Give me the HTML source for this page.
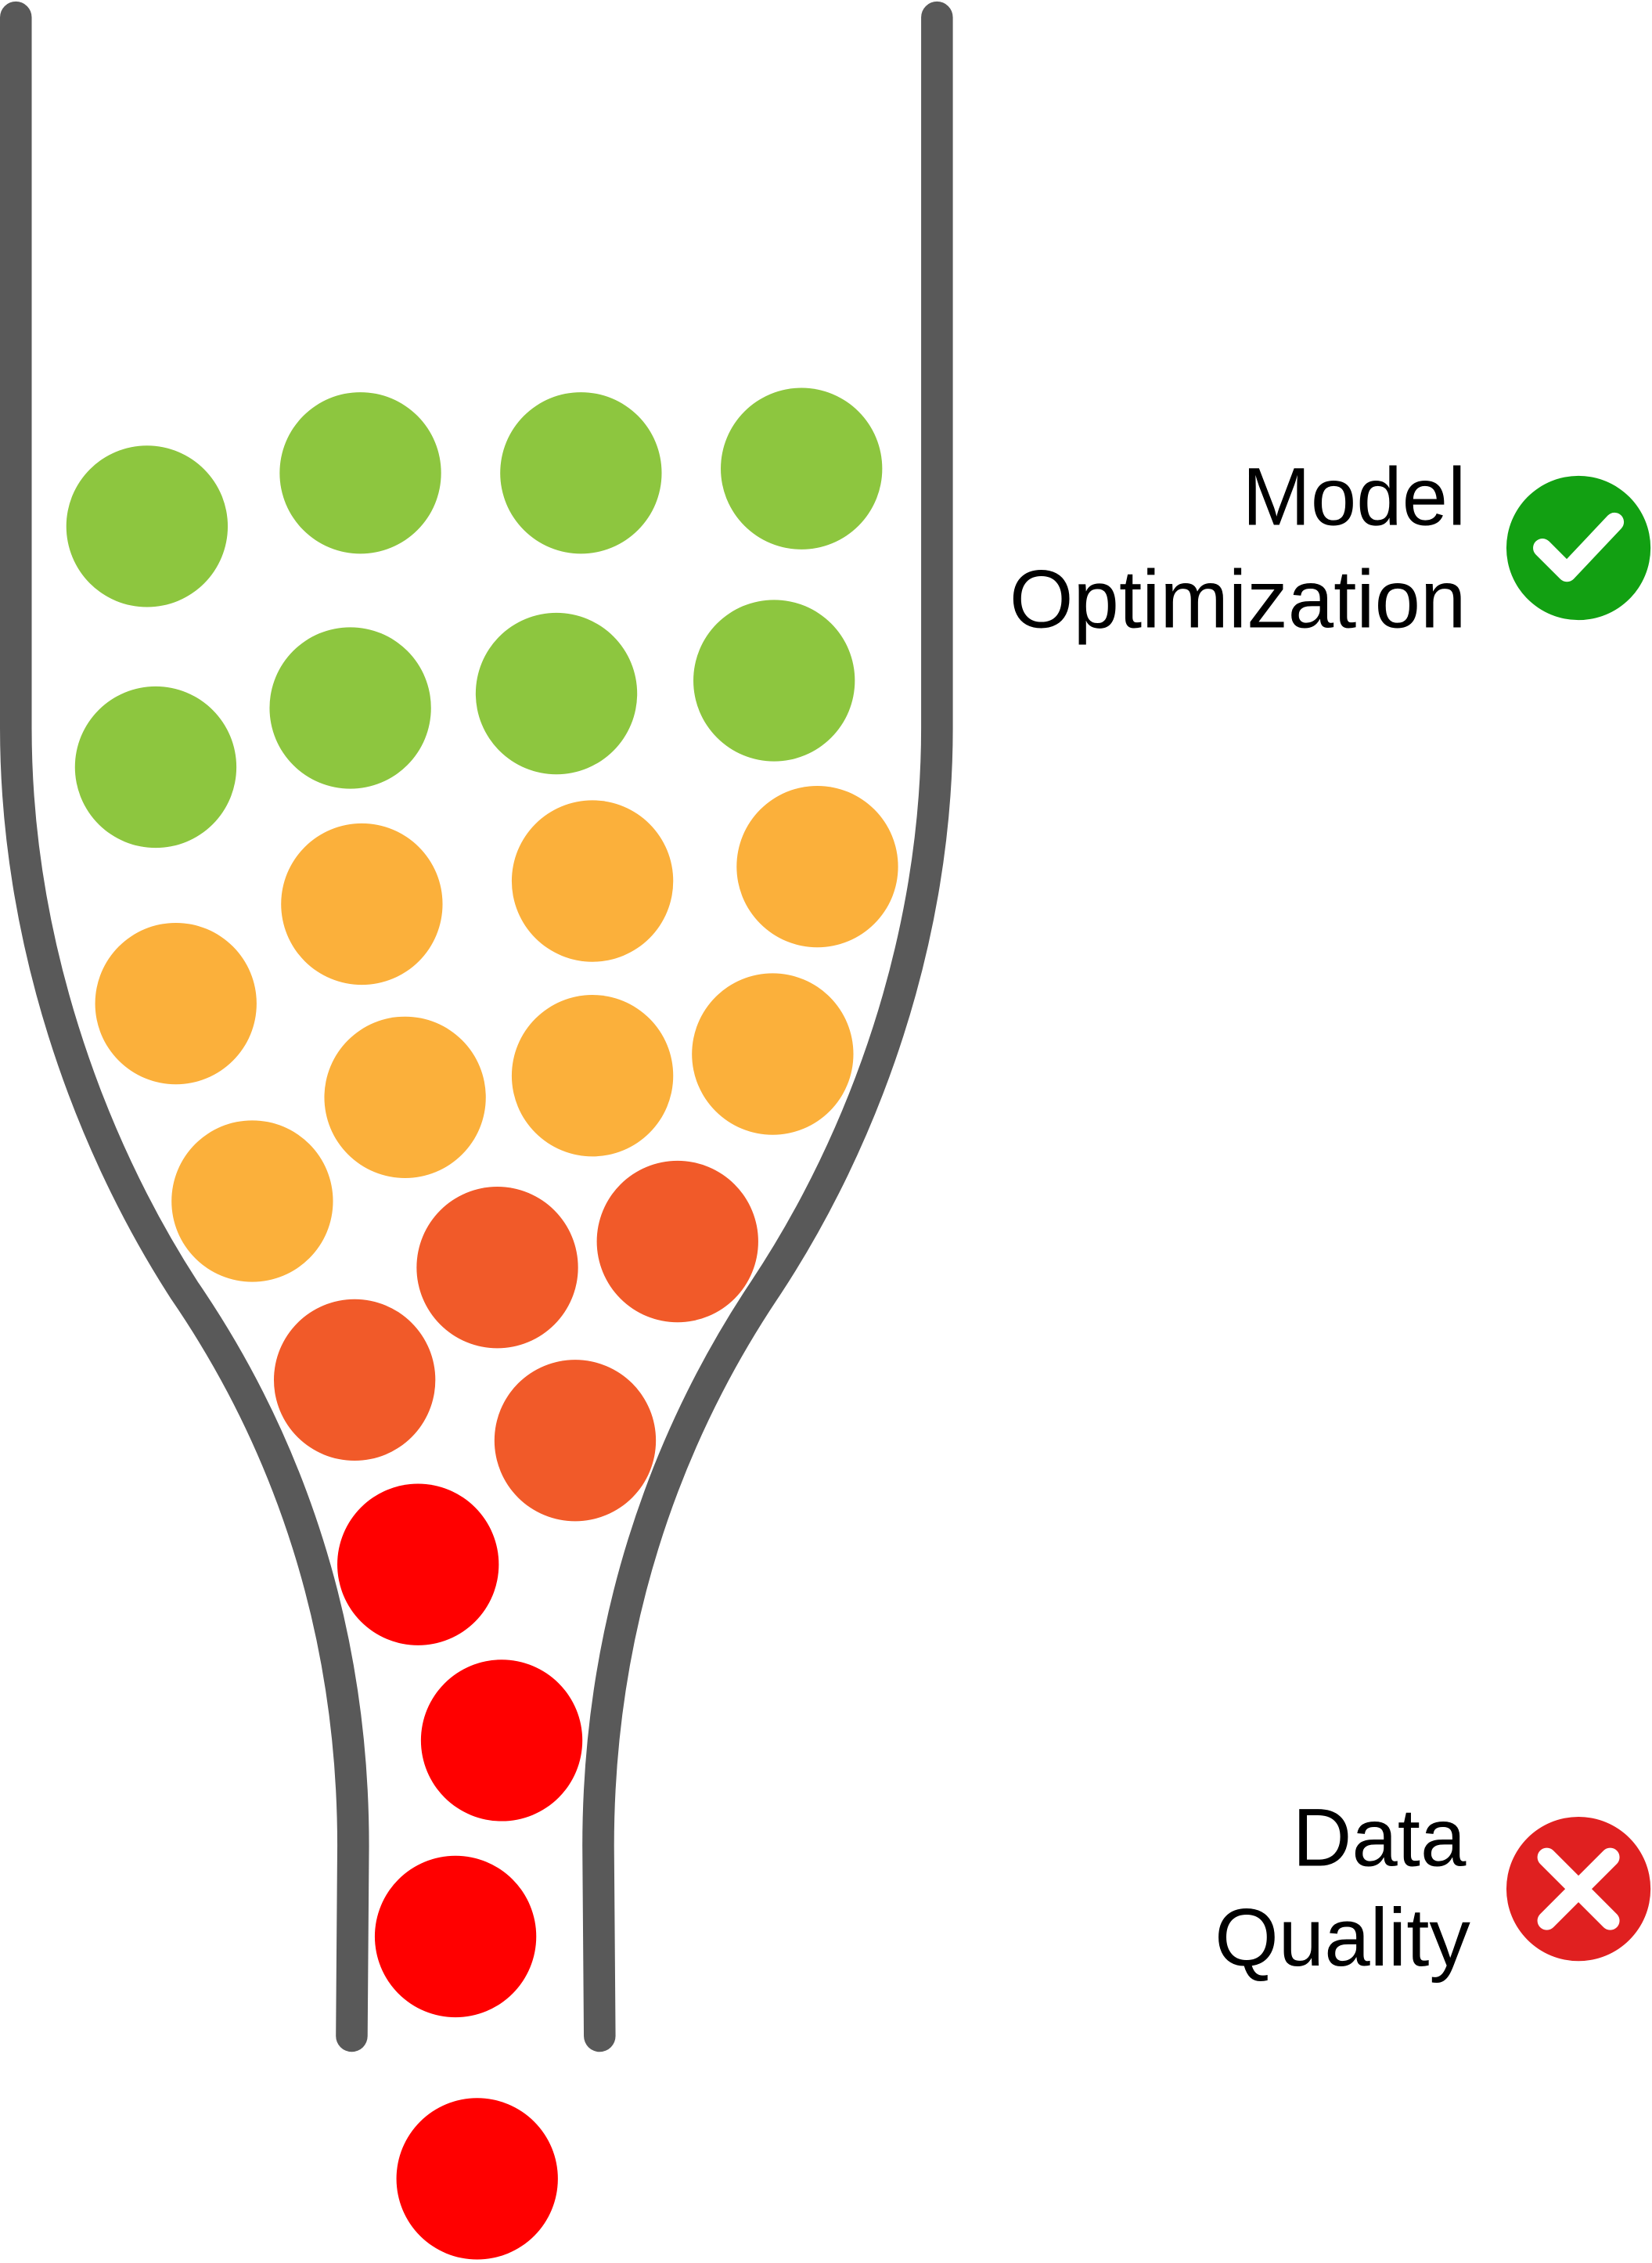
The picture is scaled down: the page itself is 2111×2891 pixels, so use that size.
<!DOCTYPE html>
<html>
<head>
<meta charset="utf-8">
<style>
html,body{margin:0;padding:0;background:#fff;}
svg{display:block;}
text{font-family:"Liberation Sans",sans-serif;fill:#000;}
</style>
</head>
<body>
<svg id="chart" width="2111" height="2891" viewBox="0 0 1146 1569.4" xmlns="http://www.w3.org/2000/svg">
  <g fill="none" stroke="#595959" stroke-width="22" stroke-linecap="round" stroke-linejoin="round">
    <path d="M11,12 L11,505 C11,650 60,790 128,895 C200,1000 245,1130 245,1280 L244,1412"/>
    <path d="M650,12 L650,505 C650,650 600,790 530,895 C460,1000 415,1130 415,1280 L416,1412"/>
  </g>
  <g id="balls"></g>

  <text x="1017" y="364" font-size="57" text-anchor="end">Model</text>
  <text x="1017" y="435" font-size="57" text-anchor="end">Optimization</text>
  <g>
    <circle cx="1095" cy="380" r="50" fill="#12a012"/>
    <path d="M1070,380 L1087,397 L1120,362" fill="none" stroke="#fff" stroke-width="13" stroke-linecap="round" stroke-linejoin="round"/>
  </g>

  <text x="1017" y="1294" font-size="57" text-anchor="end">Data</text>
  <text x="1020" y="1363" font-size="57" text-anchor="end">Quality</text>
  <g>
    <circle cx="1095" cy="1310" r="50" fill="#e02020"/>
    <path d="M1073,1288 L1117,1332 M1117,1288 L1073,1332" fill="none" stroke="#fff" stroke-width="13" stroke-linecap="round"/>
  </g>
</svg>
<script>
const ballX = [102,250,403,556,108,243,386,537, 251,411,567,122,281,411,536,175, 345,470,246,399, 290,348,316,331];
const ballY = [365,328,328,325,532,491,481,472, 627,611,601,696,761,746,731,833, 879,861,957,999, 1085,1207,1343,1511];
const ballGroup = ["green","green","green","green","green","green","green","green",
  "orange","orange","orange","orange","orange","orange","orange","orange",
  "darkorange","darkorange","darkorange","darkorange",
  "red","red","red","red"];
const groupColors = {green:"#8dc63f", orange:"#fbb03b", darkorange:"#f15a29", red:"#ff0000"};
const R = 56;
const g = document.getElementById('balls');
for (let i = 0; i < ballX.length; i++) {
  const c = document.createElementNS('http://www.w3.org/2000/svg','circle');
  c.setAttribute('cx', ballX[i]);
  c.setAttribute('cy', ballY[i]);
  c.setAttribute('r', R);
  c.setAttribute('fill', groupColors[ballGroup[i]]);
  
  
  g.appendChild(c);
}
</script>
</body>
</html>
